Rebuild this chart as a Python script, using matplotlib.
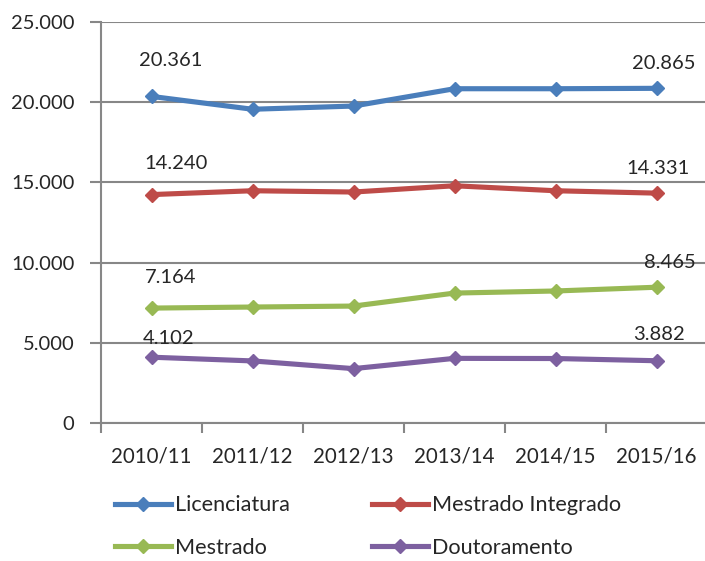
import matplotlib
matplotlib.use("Agg")
import matplotlib.pyplot as plt
from matplotlib.ticker import FuncFormatter, MultipleLocator

categories = ["2010/11", "2011/12", "2012/13", "2013/14", "2014/15", "2015/16"]
licenciatura = [20361, 19560, 19760, 20840, 20840, 20865]
mestrado_integrado = [14240, 14480, 14400, 14790, 14480, 14331]
mestrado = [7164, 7230, 7290, 8100, 8230, 8465]
doutoramento = [4102, 3870, 3390, 4030, 4020, 3882]

series = [
    ("Licenciatura", licenciatura, "#4A7EBB"),
    ("Mestrado Integrado", mestrado_integrado, "#BE4B48"),
    ("Mestrado", mestrado, "#98B954"),
    ("Doutoramento", doutoramento, "#7D60A0"),
]

# label offsets in pixels (first label, last label)
first_off = [(19, 36), (25, 31), (19, 31), (17, 19)]
last_off = [(7, 25), (1, 25), (13, 25), (3, 26)]

plt.rcParams["font.family"] = ["Lato", "DejaVu Sans"]
TXT = "#262626"
GRID = "#878787"

W, H = 705, 561
fig = plt.figure(figsize=(W / 100, H / 100), dpi=100)
left, right, top, bottom = 101, 707, 22, 423
ax = fig.add_axes([left / W, 1 - bottom / H, (right - left) / W, (bottom - top) / H])

x = list(range(len(categories)))
handles = {}
fmt = lambda v: f"{v:,.0f}".replace(",", ".")
for i, (name, vals, col) in enumerate(series):
    h, = ax.plot(x, vals, color=col, lw=3.7, marker="D", markersize=7.3,
                 markeredgewidth=1, markeredgecolor=col, markerfacecolor=col,
                 label=name, zorder=3, clip_on=False)
    handles[name] = h
    ax.annotate(fmt(vals[0]), (x[0], vals[0]), xytext=first_off[i],
                textcoords="offset pixels", ha="center", va="center",
                fontsize=14.5, color=TXT, zorder=4)
    ax.annotate(fmt(vals[-1]), (x[-1], vals[-1]), xytext=last_off[i],
                textcoords="offset pixels", ha="center", va="center",
                fontsize=14.5, color=TXT, zorder=4)

ax.set_xlim(-0.5, len(categories) - 0.5)
ax.set_ylim(0, 25000)
ax.yaxis.set_major_locator(MultipleLocator(5000))
ax.yaxis.set_major_formatter(FuncFormatter(lambda v, p: "0" if v == 0 else fmt(v)))
ax.set_xticks([i - 0.5 for i in range(len(categories) + 1)])
ax.set_xticklabels([])
ax.set_xticks(x, minor=True)
ax.set_xticklabels(categories, minor=True)
ax.tick_params(axis="x", which="minor", length=0, pad=17, labelsize=14.8, labelcolor=TXT)
ax.tick_params(axis="x", which="major", length=7, width=1.5, color=GRID, direction="out")
ax.tick_params(axis="y", length=8, width=1.5, color=GRID, pad=11, labelsize=14.5, labelcolor=TXT)

ax.grid(axis="y", color=GRID, lw=1.5, zorder=0)
ax.set_axisbelow(True)
for s in ["top", "right"]:
    ax.spines[s].set_visible(False)
for s in ["left", "bottom"]:
    ax.spines[s].set_color(GRID)
    ax.spines[s].set_linewidth(1.5)

order = ["Licenciatura", "Mestrado", "Mestrado Integrado", "Doutoramento"]
fig.legend(handles=[handles[n] for n in order], loc="center left",
           bbox_to_anchor=(115 / W, 1 - 526.5 / H),
           ncol=2, frameon=False, fontsize=15.6, handlelength=2.58, handletextpad=0.18,
           columnspacing=3.8, labelspacing=1.05, borderpad=0, borderaxespad=0,
           numpoints=1, labelcolor=TXT)

fig.savefig("out.png", dpi=100)
